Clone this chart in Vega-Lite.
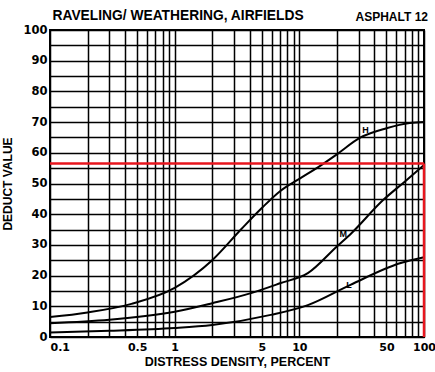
{
  "$schema": "https://vega.github.io/schema/vega-lite/v6.json",
  "autosize": "none",
  "width": 374,
  "height": 307,
  "padding": {"left": 50, "top": 30, "right": 11, "bottom": 35},
  "background": "white",
  "title": {"text": "ASPHALT 12", "anchor": "end", "frame": "group", "fontSize": 12, "font": "Liberation Sans", "fontWeight": "bold", "color": "black", "offset": 6, "dy": 22, "dx": 4},
  "datasets": {
    "curves": [
      {"series": "H", "density": 0.1, "deduct": 6.5},
      {"series": "H", "density": 0.2, "deduct": 8},
      {"series": "H", "density": 0.45, "deduct": 10.8},
      {"series": "H", "density": 1, "deduct": 16},
      {"series": "H", "density": 2, "deduct": 25},
      {"series": "H", "density": 3.4, "deduct": 35},
      {"series": "H", "density": 5, "deduct": 42},
      {"series": "H", "density": 7, "deduct": 47.5},
      {"series": "H", "density": 10, "deduct": 51.5},
      {"series": "H", "density": 15, "deduct": 56},
      {"series": "H", "density": 20, "deduct": 59.5},
      {"series": "H", "density": 31, "deduct": 65},
      {"series": "H", "density": 50, "deduct": 68},
      {"series": "H", "density": 77, "deduct": 69.7},
      {"series": "H", "density": 100, "deduct": 70},
      {"series": "M", "density": 0.1, "deduct": 4.5},
      {"series": "M", "density": 0.3, "deduct": 5.6},
      {"series": "M", "density": 1, "deduct": 8.2},
      {"series": "M", "density": 2, "deduct": 11},
      {"series": "M", "density": 4.1, "deduct": 14.3},
      {"series": "M", "density": 7, "deduct": 17.5},
      {"series": "M", "density": 11.7, "deduct": 20.8},
      {"series": "M", "density": 20, "deduct": 29.5},
      {"series": "M", "density": 25.7, "deduct": 33.5},
      {"series": "M", "density": 47, "deduct": 44.6},
      {"series": "M", "density": 70, "deduct": 50.6},
      {"series": "M", "density": 100, "deduct": 56},
      {"series": "L", "density": 0.1, "deduct": 1.5},
      {"series": "L", "density": 0.3, "deduct": 2},
      {"series": "L", "density": 1, "deduct": 2.9},
      {"series": "L", "density": 2, "deduct": 3.9},
      {"series": "L", "density": 5.9, "deduct": 7.2},
      {"series": "L", "density": 11.7, "deduct": 10.4},
      {"series": "L", "density": 25.7, "deduct": 17},
      {"series": "L", "density": 64, "deduct": 24},
      {"series": "L", "density": 100, "deduct": 26}
    ],
    "labels": [
      {"density": 34, "deduct": 67.5, "text": "H"},
      {"density": 22.5, "deduct": 33.5, "text": "M"},
      {"density": 25, "deduct": 16.8, "text": "L"}
    ],
    "redlines": [
      {"density": 0.1, "deduct": 56.5, "density2": 100, "deduct2": 56.5},
      {"density": 100, "deduct": 56.5, "density2": 100, "deduct2": 0}
    ]
  },
  "encoding": {
    "y": {
      "field": "deduct", "type": "quantitative",
      "scale": {"domain": [0, 100]},
      "axis": {
        "values": [0,5,10,15,20,25,30,35,40,45,50,55,60,65,70,75,80,85,90,95,100],
        "labelExpr": "datum.value % 10 === 0 ? datum.label : ''",
        "labelFont": "DejaVu Sans",
        "title": "DEDUCT VALUE", "labelFontSize": 11.5, "labelPadding": 3, "titleFontSize": 12, "titlePadding": 8,
        "labelOverlap": false, "labelFlush": false
      }
    }
  },
  "resolve": {"axis": {"x": "independent"}},
  "layer": [
    {
      "data": {"name": "curves"},
      "mark": {"type": "line", "interpolate": "monotone", "color": "black", "strokeWidth": 2},
      "encoding": {
        "x": {
          "field": "density", "type": "quantitative",
          "scale": {"type": "log", "domain": [0.1, 100]},
          "axis": {
            "orient": "bottom",
            "values": [0.1,0.2,0.3,0.4,0.5,0.6,0.7,0.8,0.9,1,2,3,4,5,6,7,8,9,10,20,30,40,50,60,70,80,90,100],
            "labelExpr": "indexof([0.1,0.5,1,5,10,50,100], datum.value) >= 0 ? datum.label : ''",
            "format": "~g",
            "labelFont": "DejaVu Sans",
            "labelAlign": {"condition": {"test": "datum.value === 0.1", "value": "left"}, "value": "center"},
            "title": "DISTRESS DENSITY, PERCENT",
            "labelFontSize": 11, "labelPadding": 4, "labelFlush": false, "labelOverlap": false,
            "titleFontSize": 12.5, "titlePadding": 3
          }
        },
        "detail": {"field": "series"}
      }
    },
    {
      "data": {"name": "labels"},
      "mark": {"type": "text", "font": "Liberation Sans", "fontWeight": "bold", "fontSize": 9, "color": "black"},
      "encoding": {
        "x": {"field": "density", "type": "quantitative", "scale": {"type": "log", "domain": [0.1, 100]}, "axis": null},
        "text": {"field": "text"}
      }
    },
    {
      "data": {"name": "redlines"},
      "mark": {"type": "rule", "color": "#e8161e", "strokeWidth": 2.5},
      "encoding": {
        "x": {
          "field": "density", "type": "quantitative", "scale": {"type": "log", "domain": [0.1, 100]},
          "axis": {"orient": "top", "labels": false, "grid": false, "ticks": false, "domain": false,
                   "title": "RAVELING/ WEATHERING, AIRFIELDS", "titleAnchor": "start", "titleAlign": "left",
                   "titleX": 2, "titleY": -11, "titleBaseline": "alphabetic", "titleFontSize": 13.8}
        },
        "x2": {"field": "density2"},
        "y2": {"field": "deduct2"}
      }
    }
  ],
  "config": {
    "view": {"stroke": "black", "strokeWidth": 2},
    "axis": {
      "labelFont": "Liberation Sans", "labelFontWeight": "bold", "labelColor": "black",
      "titleFont": "Liberation Sans", "titleFontWeight": "bold", "titleColor": "black",
      "grid": true, "gridColor": "black", "gridOpacity": 1, "gridWidth": 1.5,
      "ticks": false, "domain": false
    }
  }
}
